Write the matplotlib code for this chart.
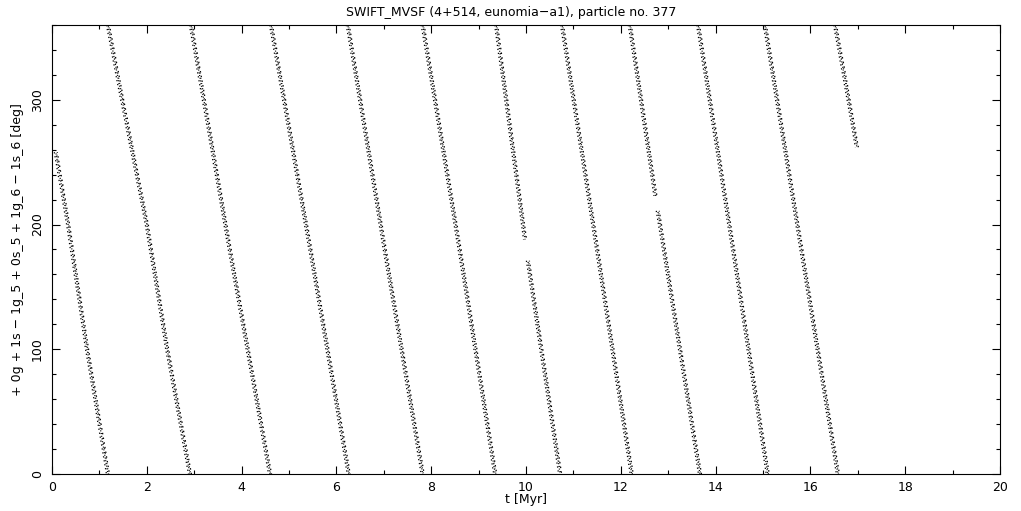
import numpy as np
import matplotlib.pyplot as plt
import matplotlib.transforms as mtransforms
from matplotlib.ticker import MultipleLocator

# resonant angle: one list of (t, angle) per wrap,
# nan marks a hole in the track
seg_t = [
    [0.08, 0.34, 0.74, 1.18],
    [1.18, 1.48, 2.00, 2.43, 2.91],
    [2.93, 3.75, 4.60],
    [4.62, 5.45, 6.26],
    [6.24, 7.02, 7.82],
    [7.82, 8.60, 9.35],
    [9.37, 9.98, np.nan, 10.04, 10.72],
    [10.76, 11.50, 12.23],
    [12.19, 12.73, np.nan, 12.78, 13.67],
    [13.63, 14.37, 15.10],
    [15.04, 15.81, 16.58],
    [16.52, 16.75, 16.98],
]
seg_ang = [
    [258, 200, 100, 0],
    [360, 300, 200, 100, 0],
    [360, 180, 0],
    [360, 180, 0],
    [360, 180, 0],
    [360, 180, 0],
    [360, 188, np.nan, 171, 0],
    [360, 180, 0],
    [360, 223, np.nan, 211, 0],
    [360, 180, 0],
    [360, 180, 0],
    [360, 312, 262],
]

title = 'SWIFT_MVSF (4+514, eunomia\u2212a1), particle no. 377'
ylab = '+ 0g + 1s \u2212 1g_5 + 0s_5 + 1g_6 \u2212 1s_6 [deg]'
xlab = 't [Myr]'

fig = plt.figure(figsize=(10.21, 5.11), dpi=100)
ax = fig.add_axes([52/1021, 37/511, 948/1021, 449/511])

# the track is a cloud of single pixels: fake it with a few thin dotted
# strands shifted sideways by a pixel or so
strands = [(-1.5, (0, (1.0, 2.2))), (0.0, (1.2, (0.8, 1.4))),
           (1.5, (0.6, (1.2, 2.6))), (0.7, (2.0, (0.6, 3.5)))]
for t, a in zip(seg_t, seg_ang):
    for dx, ls in strands:
        tr = ax.transData + mtransforms.ScaledTranslation(dx / 100, 0, fig.dpi_scale_trans)
        ax.plot(t, a, color='k', lw=0.9, ls=ls, transform=tr,
                solid_capstyle='butt', dash_capstyle='butt')

ax.set_xlim(0, 20)
ax.set_ylim(0, 360)
ax.xaxis.set_major_locator(MultipleLocator(2))
ax.xaxis.set_minor_locator(MultipleLocator(1))
ax.yaxis.set_major_locator(MultipleLocator(100))
ax.yaxis.set_minor_locator(MultipleLocator(20))
ax.tick_params(which='both', direction='in', top=True, right=True,
               width=0.8, labelsize=9, color='k')
ax.tick_params(which='major', length=5.5)
ax.tick_params(which='minor', length=3)
ax.tick_params(axis='x', pad=5)
ax.tick_params(axis='y', labelrotation=90, pad=6)
for lbl in ax.get_yticklabels():
    lbl.set_va('center')
for s in ax.spines.values():
    s.set_linewidth(0.8)

ax.set_xlabel(xlab, fontsize=9)
ax.xaxis.set_label_coords(0.5, -0.056)
ax.xaxis.label.set_va('center')
ax.set_ylabel(ylab, fontsize=9)
ax.yaxis.set_label_coords(-0.0365, 0.5)
ax.yaxis.label.set_va('center')

fig.text(0.501, 0.975, title, ha='center', va='center', fontsize=9)

fig.savefig('out.png', dpi=100)
